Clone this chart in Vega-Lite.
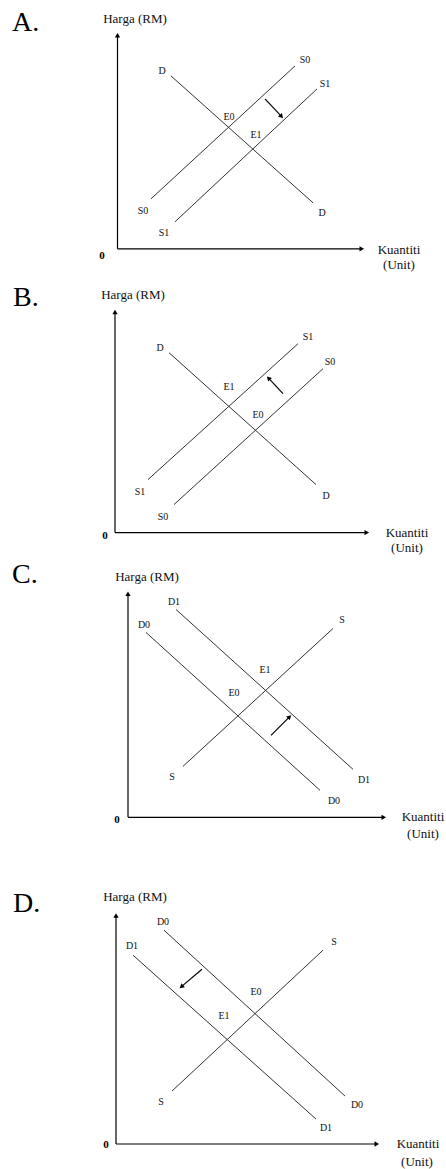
{
  "$schema": "https://vega.github.io/schema/vega-lite/v6.json",
  "width": 446,
  "height": 1169,
  "autosize": {"type": "fit", "contains": "padding"},
  "padding": 0,
  "background": "white",
  "config": {"view": {"stroke": null}},
  "datasets": {
    "curves": [
      {"panel": "A", "curve": "D", "x1": 171, "y1": 76, "x2": 313, "y2": 203},
      {"panel": "A", "curve": "S0", "x1": 151, "y1": 199, "x2": 295, "y2": 66},
      {"panel": "A", "curve": "S1", "x1": 175, "y1": 222, "x2": 317, "y2": 89},
      {"panel": "B", "curve": "D", "x1": 169, "y1": 353, "x2": 316, "y2": 485},
      {"panel": "B", "curve": "S1", "x1": 148, "y1": 480, "x2": 298, "y2": 344},
      {"panel": "B", "curve": "S0", "x1": 174, "y1": 505, "x2": 323, "y2": 369},
      {"panel": "C", "curve": "D1", "x1": 176, "y1": 610, "x2": 353, "y2": 770},
      {"panel": "C", "curve": "D0", "x1": 146, "y1": 633, "x2": 320, "y2": 791},
      {"panel": "C", "curve": "S", "x1": 183, "y1": 767, "x2": 333, "y2": 629},
      {"panel": "D", "curve": "D0", "x1": 164, "y1": 931, "x2": 345, "y2": 1097},
      {"panel": "D", "curve": "D1", "x1": 133, "y1": 956, "x2": 316, "y2": 1120},
      {"panel": "D", "curve": "S", "x1": 172, "y1": 1092, "x2": 323, "y2": 951}
    ],
    "arrows": [
      {"panel": "A", "kind": "axis", "x1": 117.5, "y1": 249, "x2": 117.5, "y2": 36},
      {"panel": "A", "kind": "axis", "x1": 117.5, "y1": 249, "x2": 361, "y2": 249},
      {"panel": "B", "kind": "axis", "x1": 115, "y1": 533, "x2": 115, "y2": 313},
      {"panel": "B", "kind": "axis", "x1": 115, "y1": 533, "x2": 366, "y2": 533},
      {"panel": "C", "kind": "axis", "x1": 128, "y1": 818, "x2": 128, "y2": 595},
      {"panel": "C", "kind": "axis", "x1": 128, "y1": 818, "x2": 383, "y2": 818},
      {"panel": "D", "kind": "axis", "x1": 116, "y1": 1145, "x2": 116, "y2": 917},
      {"panel": "D", "kind": "axis", "x1": 116, "y1": 1145, "x2": 376, "y2": 1145},
      {"panel": "A", "kind": "shift", "x1": 265, "y1": 99, "x2": 281, "y2": 116},
      {"panel": "B", "kind": "shift", "x1": 283, "y1": 394, "x2": 269, "y2": 379},
      {"panel": "C", "kind": "shift", "x1": 271, "y1": 736, "x2": 289, "y2": 718},
      {"panel": "D", "kind": "shift", "x1": 202, "y1": 970, "x2": 182, "y2": 987}
    ],
    "labels": [
      {"panel": "A", "kind": "letter", "text": "A.", "x": 12, "y": 31},
      {"panel": "A", "kind": "axis", "text": "Harga (RM)", "x": 135, "y": 19},
      {"panel": "A", "kind": "axis", "text": "Kuantiti", "x": 399, "y": 250},
      {"panel": "A", "kind": "axis", "text": "(Unit)", "x": 399, "y": 265},
      {"panel": "A", "kind": "origin", "text": "0", "x": 102, "y": 256},
      {"panel": "A", "kind": "curve", "text": "D", "x": 162, "y": 71},
      {"panel": "A", "kind": "curve", "text": "D", "x": 322, "y": 213},
      {"panel": "A", "kind": "curve", "text": "S0", "x": 305, "y": 60},
      {"panel": "A", "kind": "curve", "text": "S0", "x": 143, "y": 211},
      {"panel": "A", "kind": "curve", "text": "S1", "x": 325, "y": 84},
      {"panel": "A", "kind": "curve", "text": "S1", "x": 164, "y": 233},
      {"panel": "A", "kind": "curve", "text": "E0", "x": 229, "y": 117},
      {"panel": "A", "kind": "curve", "text": "E1", "x": 256, "y": 135},
      {"panel": "B", "kind": "letter", "text": "B.", "x": 13, "y": 306},
      {"panel": "B", "kind": "axis", "text": "Harga (RM)", "x": 133, "y": 295},
      {"panel": "B", "kind": "axis", "text": "Kuantiti", "x": 407, "y": 533},
      {"panel": "B", "kind": "axis", "text": "(Unit)", "x": 407, "y": 548},
      {"panel": "B", "kind": "origin", "text": "0", "x": 105, "y": 536},
      {"panel": "B", "kind": "curve", "text": "D", "x": 160, "y": 348},
      {"panel": "B", "kind": "curve", "text": "D", "x": 326, "y": 496},
      {"panel": "B", "kind": "curve", "text": "S1", "x": 308, "y": 337},
      {"panel": "B", "kind": "curve", "text": "S1", "x": 140, "y": 492},
      {"panel": "B", "kind": "curve", "text": "S0", "x": 330, "y": 362},
      {"panel": "B", "kind": "curve", "text": "S0", "x": 163, "y": 517},
      {"panel": "B", "kind": "curve", "text": "E1", "x": 229, "y": 387},
      {"panel": "B", "kind": "curve", "text": "E0", "x": 258, "y": 415},
      {"panel": "C", "kind": "letter", "text": "C.", "x": 12, "y": 583},
      {"panel": "C", "kind": "axis", "text": "Harga (RM)", "x": 147, "y": 577},
      {"panel": "C", "kind": "axis", "text": "Kuantiti", "x": 423, "y": 818},
      {"panel": "C", "kind": "axis", "text": "(Unit)", "x": 423, "y": 835},
      {"panel": "C", "kind": "origin", "text": "0", "x": 117, "y": 821},
      {"panel": "C", "kind": "curve", "text": "D1", "x": 174, "y": 603},
      {"panel": "C", "kind": "curve", "text": "D1", "x": 364, "y": 781},
      {"panel": "C", "kind": "curve", "text": "D0", "x": 144, "y": 626},
      {"panel": "C", "kind": "curve", "text": "D0", "x": 334, "y": 802},
      {"panel": "C", "kind": "curve", "text": "S", "x": 342, "y": 621},
      {"panel": "C", "kind": "curve", "text": "S", "x": 172, "y": 778},
      {"panel": "C", "kind": "curve", "text": "E1", "x": 265, "y": 671},
      {"panel": "C", "kind": "curve", "text": "E0", "x": 234, "y": 694},
      {"panel": "D", "kind": "letter", "text": "D.", "x": 13, "y": 913},
      {"panel": "D", "kind": "axis", "text": "Harga (RM)", "x": 135, "y": 898},
      {"panel": "D", "kind": "axis", "text": "Kuantiti", "x": 418, "y": 1145},
      {"panel": "D", "kind": "axis", "text": "(Unit)", "x": 417, "y": 1163},
      {"panel": "D", "kind": "origin", "text": "0", "x": 106, "y": 1146},
      {"panel": "D", "kind": "curve", "text": "D0", "x": 163, "y": 923},
      {"panel": "D", "kind": "curve", "text": "D0", "x": 357, "y": 1106},
      {"panel": "D", "kind": "curve", "text": "D1", "x": 132, "y": 947},
      {"panel": "D", "kind": "curve", "text": "D1", "x": 326, "y": 1129},
      {"panel": "D", "kind": "curve", "text": "S", "x": 334, "y": 943},
      {"panel": "D", "kind": "curve", "text": "S", "x": 161, "y": 1103},
      {"panel": "D", "kind": "curve", "text": "E0", "x": 256, "y": 993},
      {"panel": "D", "kind": "curve", "text": "E1", "x": 224, "y": 1017}
    ]
  },
  "layer": [
    {
      "data": {"name": "curves"},
      "mark": {"type": "rule", "color": "#333333", "strokeWidth": 1},
      "encoding": {
        "x": {"field": "x1", "type": "quantitative", "scale": {"domain": [0, 446], "nice": false, "zero": false}, "axis": null},
        "y": {"field": "y1", "type": "quantitative", "scale": {"domain": [0, 1169], "nice": false, "zero": false, "reverse": true}, "axis": null},
        "x2": {"field": "x2"},
        "y2": {"field": "y2"}
      }
    },
    {
      "data": {"name": "arrows"},
      "mark": {"type": "rule", "color": "#000000", "strokeWidth": 1.2},
      "encoding": {
        "x": {"field": "x1", "type": "quantitative", "scale": {"domain": [0, 446], "nice": false, "zero": false}, "axis": null},
        "y": {"field": "y1", "type": "quantitative", "scale": {"domain": [0, 1169], "nice": false, "zero": false, "reverse": true}, "axis": null},
        "x2": {"field": "x2"},
        "y2": {"field": "y2"}
      }
    },
    {
      "data": {"name": "arrows"},
      "transform": [
        {"calculate": "atan2(datum.x2 - datum.x1, datum.y1 - datum.y2) * 180 / PI", "as": "ang"}
      ],
      "mark": {"type": "point", "shape": "triangle", "filled": true, "color": "#000000", "size": 28, "opacity": 1},
      "encoding": {
        "x": {"field": "x2", "type": "quantitative", "scale": {"domain": [0, 446], "nice": false, "zero": false}, "axis": null},
        "y": {"field": "y2", "type": "quantitative", "scale": {"domain": [0, 1169], "nice": false, "zero": false, "reverse": true}, "axis": null},
        "angle": {"field": "ang", "type": "quantitative", "scale": null}
      }
    },
    {
      "data": {"name": "labels"},
      "transform": [{"filter": "datum.kind === 'curve'"}],
      "mark": {"type": "text", "font": "Liberation Serif", "fontSize": 10, "color": "#111111", "align": "center", "baseline": "middle"},
      "encoding": {
        "x": {"field": "x", "type": "quantitative", "scale": {"domain": [0, 446], "nice": false, "zero": false}, "axis": null},
        "y": {"field": "y", "type": "quantitative", "scale": {"domain": [0, 1169], "nice": false, "zero": false, "reverse": true}, "axis": null},
        "text": {"field": "text"}
      }
    },
    {
      "data": {"name": "labels"},
      "transform": [{"filter": "datum.kind === 'axis'"}],
      "mark": {"type": "text", "font": "Liberation Serif", "fontSize": 13, "color": "#111111", "align": "center", "baseline": "middle"},
      "encoding": {
        "x": {"field": "x", "type": "quantitative", "scale": {"domain": [0, 446], "nice": false, "zero": false}, "axis": null},
        "y": {"field": "y", "type": "quantitative", "scale": {"domain": [0, 1169], "nice": false, "zero": false, "reverse": true}, "axis": null},
        "text": {"field": "text"}
      }
    },
    {
      "data": {"name": "labels"},
      "transform": [{"filter": "datum.kind === 'origin'"}],
      "mark": {"type": "text", "font": "Liberation Serif", "fontSize": 11, "fontWeight": "bold", "color": "#000000", "align": "center", "baseline": "middle"},
      "encoding": {
        "x": {"field": "x", "type": "quantitative", "scale": {"domain": [0, 446], "nice": false, "zero": false}, "axis": null},
        "y": {"field": "y", "type": "quantitative", "scale": {"domain": [0, 1169], "nice": false, "zero": false, "reverse": true}, "axis": null},
        "text": {"field": "text"}
      }
    },
    {
      "data": {"name": "labels"},
      "transform": [{"filter": "datum.kind === 'letter'"}],
      "mark": {"type": "text", "font": "Liberation Serif", "fontSize": 28, "color": "#000000", "align": "left", "baseline": "alphabetic"},
      "encoding": {
        "x": {"field": "x", "type": "quantitative", "scale": {"domain": [0, 446], "nice": false, "zero": false}, "axis": null},
        "y": {"field": "y", "type": "quantitative", "scale": {"domain": [0, 1169], "nice": false, "zero": false, "reverse": true}, "axis": null},
        "text": {"field": "text"}
      }
    }
  ]
}
